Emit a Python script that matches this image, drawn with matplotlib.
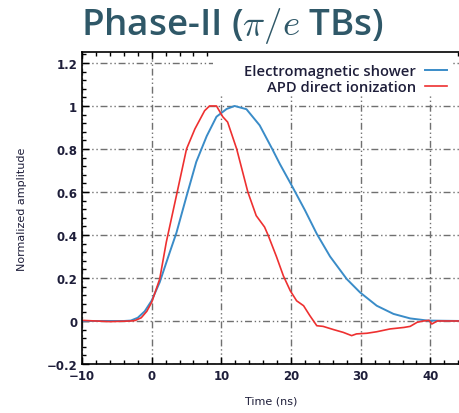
import matplotlib
matplotlib.use("Agg")
import matplotlib.pyplot as plt
from matplotlib.ticker import MultipleLocator
from matplotlib.patches import Rectangle

# ---- data ----
t_em = [-10, -4, -3, -2, -1, 0, 1.15, 2.6, 3.55, 5.0, 6.4, 7.9, 9.3, 10.75, 11.9,
        13.6, 15.5, 17.3, 18.4, 20.1, 22.0, 23.7, 25.6, 28.0, 29.9, 32.3, 34.7,
        37.1, 39.6, 44.5]
y_em = [0, 0, 0.002, 0.015, 0.045, 0.095, 0.18, 0.32, 0.41, 0.58, 0.74, 0.86, 0.95,
        0.986, 1.0, 0.985, 0.91, 0.8, 0.73, 0.63, 0.515, 0.405, 0.30, 0.195, 0.133,
        0.071, 0.033, 0.012, 0.002, 0]

t_apd = [-10, -6, -3, -2.4, -1.5, -0.7, 0, 1.15, 2.1, 3.55, 5.0, 6.2, 7.6, 8.3, 9.3,
         10.2, 10.9, 12.2, 13.8, 15.0, 16.2, 16.7, 17.9, 18.9, 19.9, 20.8, 21.8,
         22.7, 23.7, 24.6, 26.1, 27.5, 28.7, 29.4, 30.9, 32.3, 34.2, 36.2, 37.1,
         38.1, 39.0, 39.8, 40.2, 41.0, 44.5]
y_apd = [0.003, -0.003, 0.0, 0.002, 0.015, 0.045, 0.087, 0.195, 0.367, 0.583, 0.8,
         0.893, 0.978, 1.0, 1.0, 0.95, 0.925, 0.8, 0.6, 0.49, 0.437, 0.40, 0.30,
         0.21, 0.14, 0.094, 0.071, 0.025, -0.022, -0.025, -0.04, -0.053, -0.068,
         -0.06, -0.057, -0.05, -0.037, -0.03, -0.025, -0.006, 0.0, 0.003, -0.014,
         0.0, 0.0]

label_em = "Electromagnetic shower"
label_apd = "APD direct ionization"
title = r"Phase-II ($\pi/e$ TBs)"

plt.rcParams['mathtext.fontset'] = 'cm'
plt.rcParams['font.family'] = ['DejaVu Sans']

fig = plt.figure(figsize=(4.6, 4.14), dpi=100)
ax = fig.add_axes([82/460, 1-365/414, 1-82/460, (365-53)/414])
ax.set_axisbelow(True)

ax.plot(t_em, y_em, color='#3a8cc8', lw=1.4, label=label_em, zorder=3)
ax.plot(t_apd, y_apd, color='#ee3030', lw=1.2, label=label_apd, zorder=3)

# white key box (covers grid behind the legend)
ax.add_patch(Rectangle((0.3466, 0.859), 0.635, 0.141, transform=ax.transAxes,
                       facecolor='white', edgecolor='none', zorder=1))

ax.set_xlim(-10, 44.25)
ax.set_ylim(-0.2, 1.251)
ax.xaxis.set_major_locator(MultipleLocator(10))
ax.xaxis.set_minor_locator(MultipleLocator(2))
ax.yaxis.set_major_locator(MultipleLocator(0.2))
ax.yaxis.set_minor_locator(MultipleLocator(0.04))
ax.set_yticks([-0.2, 0, 0.2, 0.4, 0.6, 0.8, 1, 1.2])
ax.set_yticklabels(['\u22120.2', '0', '0.2', '0.4', '0.6', '0.8', '1', '1.2'])
ax.set_xticks([-10, 0, 10, 20, 30, 40])
ax.set_xticklabels(['\u221210', '0', '10', '20', '30', '40'])

ax.tick_params(which='both', direction='in', top=True, right=False,
               labelsize=8.5, width=1.0, colors='black')
ax.tick_params(which='major', length=5)
ax.tick_params(which='minor', length=3)
for lab in ax.get_xticklabels() + ax.get_yticklabels():
    lab.set_fontweight('bold')
    lab.set_color('#1e1e3a')
ax.spines['right'].set_visible(False)
for s in ['left', 'top', 'bottom']:
    ax.spines[s].set_linewidth(1.2)
    ax.spines[s].set_zorder(4)

ax.grid(True, which='major', color='#707070', lw=1.0, ls=(0, (5, 2, 1, 2, 1, 2)))

ax.set_xlabel('Time (ns)', fontsize=8, color='#1e1e3a', labelpad=10)
ax.set_ylabel('Normalized amplitude', fontsize=8, color='#1e1e3a', labelpad=14)

leg = ax.legend(loc='upper right', frameon=False, markerfirst=False,
                prop={'family': 'Open Sans', 'weight': 'semibold', 'size': 10.6},
                handlelength=1.5, handletextpad=0.6, borderaxespad=0.0,
                labelspacing=0.15, bbox_to_anchor=(0.981, 0.98))
leg.set_zorder(5)
for txt in leg.get_texts():
    txt.set_color('#1e1e3a')

fig.text(0.505, 0.937, title, ha='center', va='center', fontsize=26.5,
         family='Open Sans', fontweight='semibold', color='#2f5868')

fig.savefig('out.png', dpi=100)
